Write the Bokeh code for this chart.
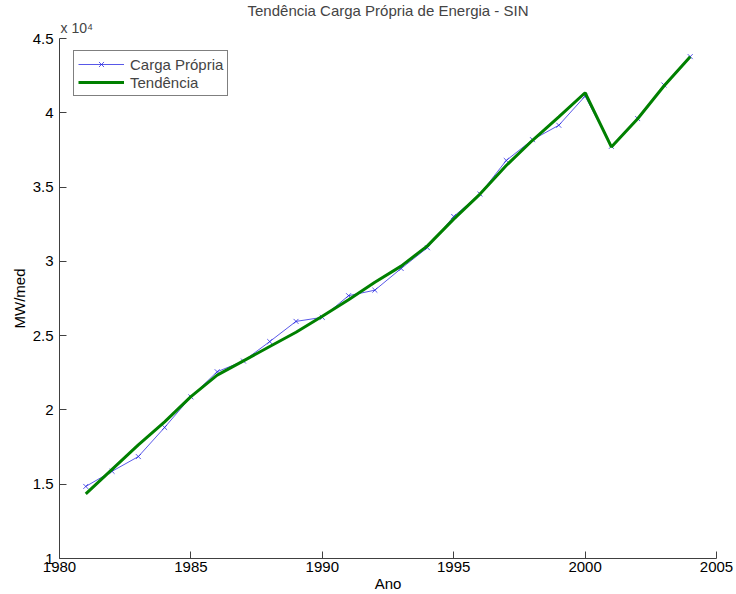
from bokeh.plotting import figure
from bokeh.models import Legend, LegendItem, FixedTicker, Title
from bokeh.embed import file_html
from bokeh.resources import INLINE

anos = list(range(1981, 2005))
carga = [14850, 15870, 16860, 18820, 20880, 22570, 23290, 24600, 25960, 26230,
         27690, 28060, 29520, 30920, 33020, 34530, 36790, 38190, 39160, 41120,
         37740, 39610, 41870, 43780]
tendencia = [14350, 16000, 17650, 19200, 20900, 22340, 23300, 24270, 25230, 26300,
             27420, 28600, 29680, 31040, 32840, 34530, 36450, 38150, 39720, 41350,
             37700, 39600, 41800, 43780]
x_ticks = [1980, 1985, 1990, 1995, 2000, 2005]
y_ticks = [10000, 15000, 20000, 25000, 30000, 35000, 40000, 45000]
y_tick_labels = ["1", "1.5", "2", "2.5", "3", "3.5", "4", "4.5"]
escala = "x 10\u2074"

FONT = "Liberation Sans"

p = figure(width=736, height=594, output_backend="svg", toolbar_location=None,
           x_range=(1980, 2005), y_range=(10000, 45000),
           min_border_left=59, min_border_right=20, min_border_top=38, min_border_bottom=20)
p.add_layout(Title(text=escala, align="left", offset=1, standoff=6,
                   text_font=FONT, text_font_size="14px", text_font_style="normal"), "above")
p.title.text = "Tendência Carga Própria de Energia - SIN"
p.title.align = "center"
p.title.text_font = FONT
p.title.text_font_size = "15px"
p.title.text_font_style = "normal"
p.title.offset = 0
p.title.standoff = -8
p.outline_line_color = None
p.grid.visible = False
p.background_fill_color = "white"
p.border_fill_color = "white"

for ax in (p.xaxis[0], p.yaxis[0]):
    ax.axis_line_color = "#404040"
    ax.major_tick_line_color = "#404040"
    ax.minor_tick_line_color = None
    ax.major_tick_in = 7
    ax.major_tick_out = 0
    ax.major_label_text_font = FONT
    ax.major_label_text_font_size = "15px"
    ax.major_label_text_color = "black"
    ax.axis_label_text_font = FONT
    ax.axis_label_text_font_size = "15px"
    ax.axis_label_text_font_style = "normal"
    ax.axis_label_text_color = "black"

p.xaxis.ticker = FixedTicker(ticks=x_ticks)
p.yaxis.ticker = FixedTicker(ticks=y_ticks)
p.yaxis.major_label_overrides = {t: s for t, s in zip(y_ticks, y_tick_labels)}
p.xaxis.axis_label = "Ano"
p.yaxis.axis_label = "MW/med"
p.xaxis.major_label_standoff = 3
p.xaxis.axis_label_standoff = 0
p.yaxis.major_label_standoff = 6
p.yaxis.axis_label_standoff = 2

r_line = p.line(anos, carga, line_color="#2020e0", line_width=1, line_alpha=0.75)
r_mark = p.scatter(anos, carga, marker="x", size=7, line_color="#2020e0", line_width=1, line_alpha=0.75)
r_trend = p.line(anos, tendencia, line_color="#008000", line_width=3)

legend = Legend(items=[LegendItem(label="Carga Própria", renderers=[r_line, r_mark]),
                       LegendItem(label="Tendência", renderers=[r_trend])],
                location=(14, 462))
legend.margin = 0
legend.padding = 4
legend.spacing = 0
legend.glyph_width = 46
legend.glyph_height = 18
legend.label_standoff = 6
legend.label_text_font = FONT
legend.label_text_font_size = "15px"
legend.label_height = 18
legend.border_line_color = "black"
legend.border_line_width = 1
legend.background_fill_alpha = 1
p.add_layout(legend)

open("out.html", "w").write(file_html(p, INLINE))
